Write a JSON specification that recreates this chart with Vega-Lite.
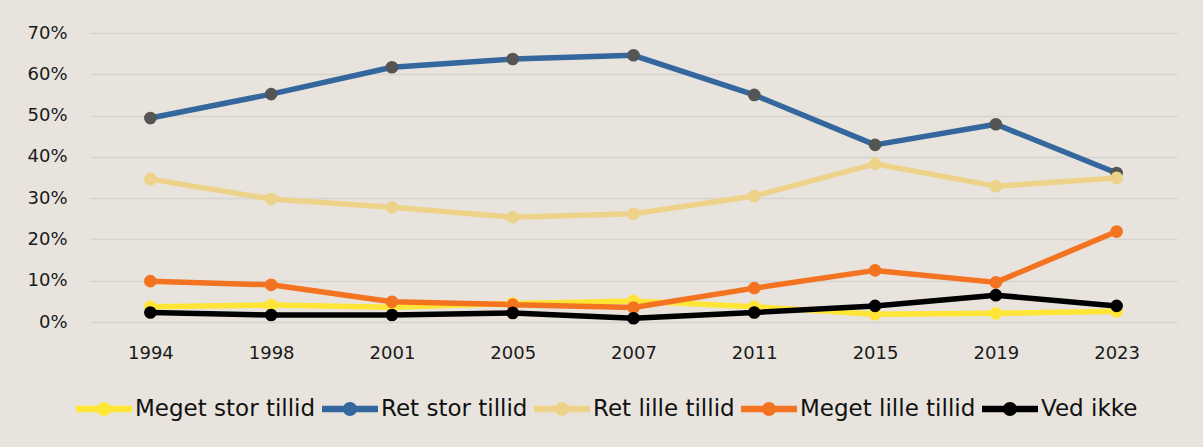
{
  "$schema": "https://vega.github.io/schema/vega-lite/v6.json",
  "width": 1087,
  "height": 289,
  "autosize": {"type": "none"},
  "padding": {"left": 90, "top": 33, "right": 26, "bottom": 125},
  "background": "#E8E4DD",
  "config": {"view": {"stroke": null}, "font": "DejaVu Sans"},
  "data": {"values": [
    {"year": "1994", "series": "Meget stor tillid", "value": 0.037},
    {"year": "1998", "series": "Meget stor tillid", "value": 0.041},
    {"year": "2001", "series": "Meget stor tillid", "value": 0.036},
    {"year": "2005", "series": "Meget stor tillid", "value": 0.045},
    {"year": "2007", "series": "Meget stor tillid", "value": 0.051},
    {"year": "2011", "series": "Meget stor tillid", "value": 0.037},
    {"year": "2015", "series": "Meget stor tillid", "value": 0.019},
    {"year": "2019", "series": "Meget stor tillid", "value": 0.021},
    {"year": "2023", "series": "Meget stor tillid", "value": 0.026},
    {"year": "1994", "series": "Ret stor tillid", "value": 0.494},
    {"year": "1998", "series": "Ret stor tillid", "value": 0.552},
    {"year": "2001", "series": "Ret stor tillid", "value": 0.617},
    {"year": "2005", "series": "Ret stor tillid", "value": 0.637},
    {"year": "2007", "series": "Ret stor tillid", "value": 0.646},
    {"year": "2011", "series": "Ret stor tillid", "value": 0.550},
    {"year": "2015", "series": "Ret stor tillid", "value": 0.429},
    {"year": "2019", "series": "Ret stor tillid", "value": 0.479},
    {"year": "2023", "series": "Ret stor tillid", "value": 0.361},
    {"year": "1994", "series": "Ret lille tillid", "value": 0.346},
    {"year": "1998", "series": "Ret lille tillid", "value": 0.298},
    {"year": "2001", "series": "Ret lille tillid", "value": 0.278},
    {"year": "2005", "series": "Ret lille tillid", "value": 0.254},
    {"year": "2007", "series": "Ret lille tillid", "value": 0.262},
    {"year": "2011", "series": "Ret lille tillid", "value": 0.305},
    {"year": "2015", "series": "Ret lille tillid", "value": 0.383},
    {"year": "2019", "series": "Ret lille tillid", "value": 0.329},
    {"year": "2023", "series": "Ret lille tillid", "value": 0.349},
    {"year": "1994", "series": "Meget lille tillid", "value": 0.099},
    {"year": "1998", "series": "Meget lille tillid", "value": 0.090},
    {"year": "2001", "series": "Meget lille tillid", "value": 0.049},
    {"year": "2005", "series": "Meget lille tillid", "value": 0.042},
    {"year": "2007", "series": "Meget lille tillid", "value": 0.035},
    {"year": "2011", "series": "Meget lille tillid", "value": 0.082},
    {"year": "2015", "series": "Meget lille tillid", "value": 0.125},
    {"year": "2019", "series": "Meget lille tillid", "value": 0.096},
    {"year": "2023", "series": "Meget lille tillid", "value": 0.219},
    {"year": "1994", "series": "Ved ikke", "value": 0.023},
    {"year": "1998", "series": "Ved ikke", "value": 0.017},
    {"year": "2001", "series": "Ved ikke", "value": 0.017},
    {"year": "2005", "series": "Ved ikke", "value": 0.022},
    {"year": "2007", "series": "Ved ikke", "value": 0.009},
    {"year": "2011", "series": "Ved ikke", "value": 0.023},
    {"year": "2015", "series": "Ved ikke", "value": 0.039},
    {"year": "2019", "series": "Ved ikke", "value": 0.065},
    {"year": "2023", "series": "Ved ikke", "value": 0.039}
  ]},
  "encoding": {
    "x": {
      "field": "year", "type": "ordinal", "sort": null,
      "axis": {"title": null, "labelAngle": 0, "domain": false, "ticks": false, "labelFontSize": 18, "labelColor": "#1a1a1a", "labelPadding": 22, "grid": false}
    },
    "y": {
      "field": "value", "type": "quantitative",
      "scale": {"domain": [0, 0.7]},
      "axis": {"title": null, "format": ".0%", "values": [0, 0.1, 0.2, 0.3, 0.4, 0.5, 0.6, 0.7], "domain": false, "ticks": false, "gridColor": "#D6D4D0", "gridWidth": 1.5, "labelFontSize": 18, "labelPadding": 23, "labelColor": "#1a1a1a"}
    },
    "color": {
      "field": "series", "type": "nominal",
      "scale": {
        "domain": ["Meget stor tillid", "Ret stor tillid", "Ret lille tillid", "Meget lille tillid", "Ved ikke"],
        "range": ["#FFE535", "#33679E", "#EDD38A", "#F47321", "#000000"]
      },
      "legend": {
        "title": null,
        "orient": "none",
        "legendX": -14,
        "legendY": 348,
        "direction": "horizontal",
        "columnPadding": 6,
        "labelOffset": 3,
        "labelFontSize": 23,
        "labelColor": "#111111",
        "labelLimit": 300,
        "symbolSize": 3136,
        "symbolType": "M-1,-0.12H1V0.12H-1Z M0,-0.25A0.25,0.25 0 1 1 0,0.25A0.25,0.25 0 1 1 0,-0.25Z",
        "symbolStrokeWidth": 0,
        "symbolOpacity": 1,
        "encode": {"symbols": {"update": {"fill": {"scale": "color", "field": "value"}, "stroke": {"value": "transparent"}, "opacity": {"value": 1}}}}
      }
    }
  },
  "layer": [
    {"mark": {"type": "line", "strokeWidth": 5.5, "strokeJoin": "round"}},
    {
      "mark": {"type": "point", "filled": true, "size": 160, "opacity": 1},
      "encoding": {
        "fill": {
          "condition": {"test": "datum.series === 'Ret stor tillid'", "value": "#555555"},
          "field": "series", "type": "nominal",
          "scale": {
            "domain": ["Meget stor tillid", "Ret stor tillid", "Ret lille tillid", "Meget lille tillid", "Ved ikke"],
            "range": ["#FFE535", "#33679E", "#EDD38A", "#F47321", "#000000"]
          },
          "legend": null
        }
      }
    }
  ]
}
